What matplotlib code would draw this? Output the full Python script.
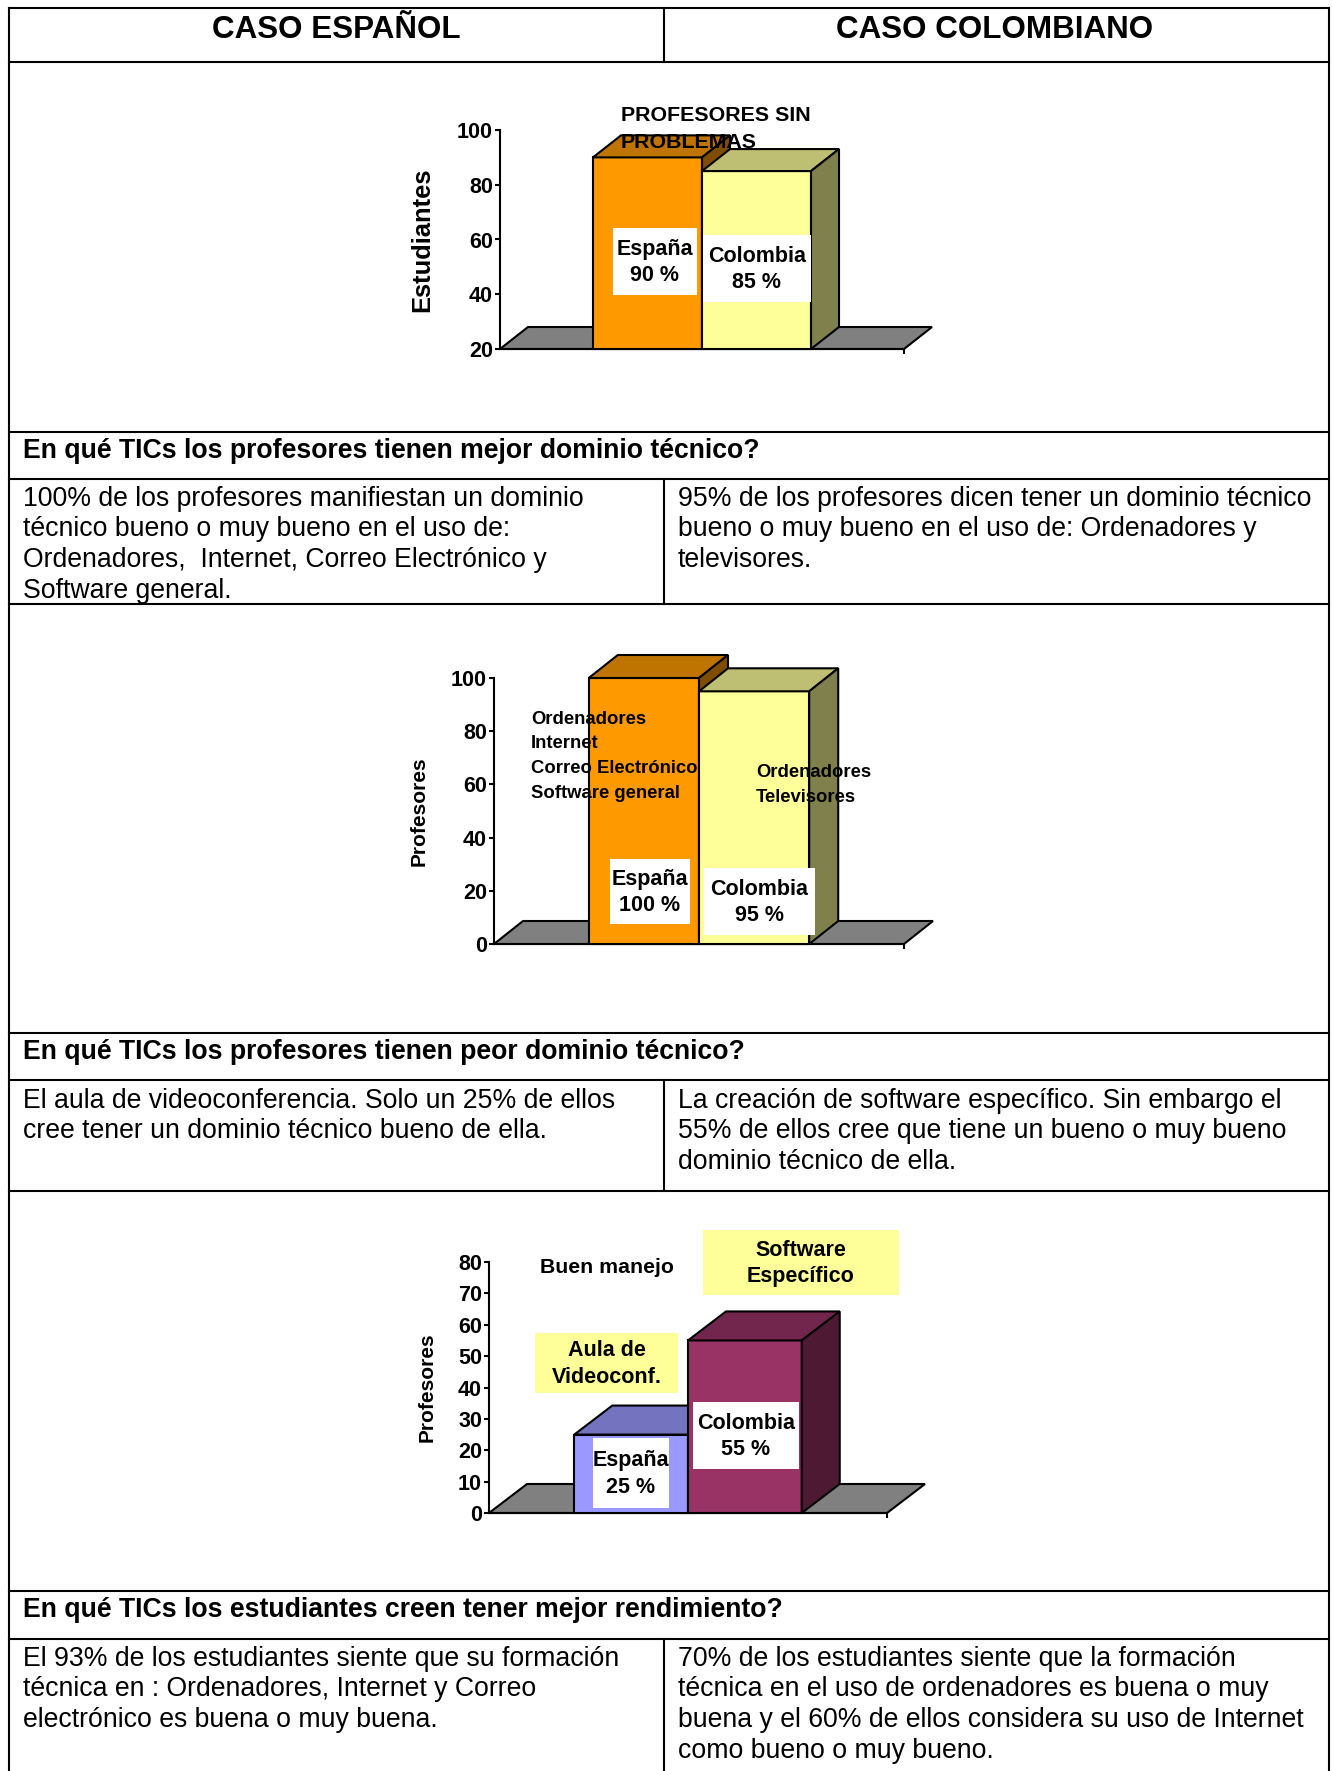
import matplotlib
matplotlib.use('Agg')
import matplotlib.pyplot as plt
from matplotlib.patches import Polygon, Rectangle

plt.rcParams['font.family'] = ['Liberation Sans', 'DejaVu Sans']

W, H = 1332, 1771

# ---- data ----
paises = ['España', 'Colombia']
sin_problemas = [90, 85]
mejor_dominio = [100, 95]
peor_dominio = [25, 55]

ticks_1 = [20, 40, 60, 80, 100]
ticks_2 = [0, 20, 40, 60, 80, 100]
ticks_3 = [0, 10, 20, 30, 40, 50, 60, 70, 80]

encabezados = ['CASO ESPAÑOL', 'CASO COLOMBIANO']
preguntas = ['En qué TICs los profesores tienen mejor dominio técnico?',
             'En qué TICs los profesores tienen peor dominio técnico?',
             'En qué TICs los estudiantes creen tener mejor rendimiento?']
texto_esp = [['100% de los profesores manifiestan un dominio',
              'técnico bueno o muy bueno en el uso de:',
              'Ordenadores,  Internet, Correo Electrónico y',
              'Software general.'],
             ['El aula de videoconferencia. Solo un 25% de ellos',
              'cree tener un dominio técnico bueno de ella.'],
             ['El 93% de los estudiantes siente que su formación',
              'técnica en : Ordenadores, Internet y Correo',
              'electrónico es buena o muy buena.']]
texto_col = [['95% de los profesores dicen tener un dominio técnico',
              'bueno o muy bueno en el uso de: Ordenadores y',
              'televisores.'],
             ['La creación de software específico. Sin embargo el',
              '55% de ellos cree que tiene un bueno o muy bueno',
              'dominio técnico de ella.'],
             ['70% de los estudiantes siente que la formación',
              'técnica en el uso de ordenadores es buena o muy',
              'buena y el 60% de ellos considera su uso de Internet',
              'como bueno o muy bueno.']]

tics_esp = ['Ordenadores', 'Internet', 'Correo Electrónico', 'Software general']
tics_col = ['Ordenadores', 'Televisores']

# front, top, side
naranja = ('#FF9900', '#BF7300', '#804D00')
amarillo = ('#FFFF99', '#BFBF73', '#80804D')
lila = ('#9999FF', '#7373BF', '#4D4D80')
vino = ('#993366', '#73264D', '#4D1933')

fig = plt.figure(figsize=(W / 100, H / 100), dpi=100)
bg = fig.add_axes([0, 0, 1, 1])
bg.set_xlim(0, W)
bg.set_ylim(H, 0)
bg.axis('off')


def px(size):
    return size * 100 / 72


def line_text(target, x, yc, s, size, **kw):
    # yc is the visual centre of the capitals
    return target.text(x, yc + 0.716 * px(size) / 2, s, fontsize=size, va='baseline',
                       transform=bg.transData, **kw)


# ---- table ----
lw = 1.5
L, M, R = 9, 664, 1329
for y in [8, 62, 432, 479, 604, 1033, 1080, 1191, 1591, 1639]:
    bg.plot([L, R], [y, y], color='black', lw=lw)
for x in [L, R]:
    bg.plot([x, x], [8, H], color='black', lw=lw)
for y0, y1 in [(8, 62), (479, 604), (1080, 1191), (1639, H)]:
    bg.plot([M, M], [y0, y1], color='black', lw=lw)

line_text(bg, 336, 27, encabezados[0], 22.6, ha='center', fontweight='bold')
line_text(bg, 995, 27, encabezados[1], 22.6, ha='center', fontweight='bold')

for q, yq in zip(preguntas, [448.5, 1049.6, 1607.7]):
    line_text(bg, 23, yq, q, 19.2, ha='left', fontweight='bold')

step = 30.7
for lines_e, lines_c, y0 in zip(texto_esp, texto_col, [496, 1098, 1656]):
    for i, s in enumerate(lines_e):
        line_text(bg, 23, y0 + i * step, s, 19.2, ha='left')
    for i, s in enumerate(lines_c):
        line_text(bg, 678, y0 + i * step, s, 19.2, ha='left')


# ---- 3d style bar charts ----
def chart(box, ylim, yticks, values, colors, depth, half, ylabel, ylabel_pos, ylabel_size):
    left, top, right, bottom = box
    ax = fig.add_axes([left / W, 1 - bottom / H, (right - left) / W, (bottom - top) / H])
    ax.patch.set_alpha(0)
    ax.set_xlim(1 - half, 1 + half)
    ax.set_ylim(*ylim)
    x0, x1 = ax.get_xlim()
    y0 = ylim[0]
    dx = depth[0] * (x1 - x0) / (right - left)
    dy = depth[1] * (ylim[1] - ylim[0]) / (bottom - top)

    ax.add_patch(Polygon([(x0, y0), (x1, y0), (x1 + dx, y0 + dy), (x0 + dx, y0 + dy)],
                         closed=True, facecolor='#808080', edgecolor='black', lw=1.5,
                         clip_on=False, zorder=1))
    for i, (v, (c_front, c_top, c_side)) in enumerate(zip(values, colors)):
        z = 3 + i
        ax.bar(i, v - y0, bottom=y0, width=1, align='edge', color=c_front,
               edgecolor='black', lw=1.5, zorder=z, clip_on=False)
        ax.add_patch(Polygon([(i, v), (i + 1, v), (i + 1 + dx, v + dy), (i + dx, v + dy)],
                             closed=True, facecolor=c_top, edgecolor='black', lw=1.5,
                             clip_on=False, zorder=z))
        ax.add_patch(Polygon([(i + 1, y0), (i + 1, v), (i + 1 + dx, v + dy), (i + 1 + dx, y0 + dy)],
                             closed=True, facecolor=c_side, edgecolor='black', lw=1.5,
                             clip_on=False, zorder=z))

    for s in ['top', 'right']:
        ax.spines[s].set_visible(False)
    for s in ['left', 'bottom']:
        ax.spines[s].set_linewidth(1.5)
        ax.spines[s].set_zorder(2)
    ax.set_yticks(yticks)
    ax.set_yticklabels([str(t) for t in yticks], fontsize=15.5, fontweight='bold')
    ax.set_xticks([x1])
    ax.set_xticklabels([''])
    ax.tick_params(direction='out', length=3.5, width=1.5, pad=1.5)
    bg.text(ylabel_pos[0], ylabel_pos[1], ylabel, rotation=90, fontsize=ylabel_size,
            fontweight='bold', ha='center', va='center')
    return ax


def box_label(ax, rect, text, face='white', size=15.5):
    xl, yt, xr, yb = rect
    ax.add_patch(Rectangle((xl, yt), xr - xl, yb - yt, facecolor=face, edgecolor='none',
                           transform=bg.transData, zorder=10, clip_on=False))
    ax.text((xl + xr) / 2, (yt + yb) / 2 + 1, text, transform=bg.transData, ha='center',
            va='center', fontsize=size, fontweight='bold', linespacing=1.34, zorder=11)


# chart 1
ax1 = chart((500, 130, 904, 349), (20, 100), ticks_1, sin_problemas, [naranja, amarillo],
            (28, 22), 1.853, 'Estudiantes', (422, 240), 18.4)
line_text(ax1, 621, 113, 'PROFESORES SIN', 15.4, ha='left', fontweight='bold', zorder=12)
t2 = line_text(ax1, 621, 140, 'PROBLEMAS', 15.4, ha='left', fontweight='bold', zorder=12)
# title text box is cut at its lower edge
clip = Rectangle((600, 90), 200, 57, transform=bg.transData)
t2.set_clip_path(clip)
box_label(ax1, (613, 228, 697, 295), f'{paises[0]}\n{sin_problemas[0]} %')
box_label(ax1, (703, 235, 811, 302), f'{paises[1]}\n{sin_problemas[1]} %')

# chart 2
ax2 = chart((494, 678, 904, 944), (0, 100), ticks_2, mejor_dominio, [naranja, amarillo],
            (29, 23), 1.86, 'Profesores', (419, 811), 15)
for i, s in enumerate(tics_esp):
    line_text(ax2, 531, 717 + i * 24.7, s, 13.3, ha='left', fontweight='bold', zorder=12)
for i, s in enumerate(tics_col):
    line_text(ax2, 756, 770.5 + i * 24.7, s, 13.3, ha='left', fontweight='bold', zorder=12)
box_label(ax2, (610, 859, 690, 924), f'{paises[0]}\n{mejor_dominio[0]} %')
box_label(ax2, (704, 868, 815, 935), f'{paises[1]}\n{mejor_dominio[1]} %')

# chart 3
ax3 = chart((489, 1262, 887, 1513), (0, 80), ticks_3, peor_dominio, [lila, vino],
            (38, 29), 1.75, 'Profesores', (427, 1387), 15)
line_text(ax3, 607, 1265, 'Buen manejo', 15.3, ha='center', fontweight='bold', zorder=12)
box_label(ax3, (703, 1230, 899, 1295), 'Software\nEspecífico', face='#FFFF99')
box_label(ax3, (535, 1333, 678, 1393), 'Aula de\nVideoconf.', face='#FFFF99')
box_label(ax3, (593, 1438, 669, 1508), f'{paises[0]}\n{peor_dominio[0]} %')
box_label(ax3, (693, 1402, 799, 1469), f'{paises[1]}\n{peor_dominio[1]} %')

fig.savefig('out.png', dpi=100)
